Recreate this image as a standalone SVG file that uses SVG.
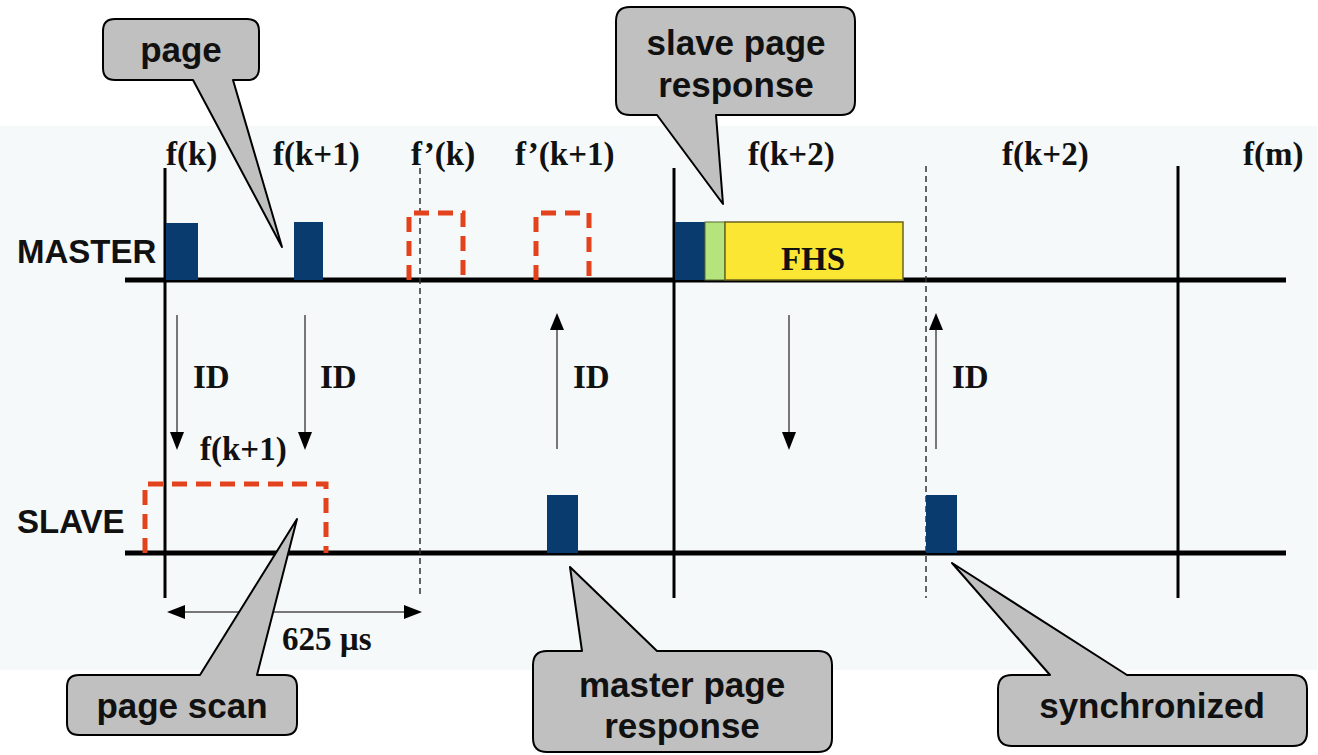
<svg xmlns="http://www.w3.org/2000/svg" width="1318" height="755" viewBox="0 0 1318 755">
<defs>
<style>
.serif{font-family:"Liberation Serif","Times New Roman",serif;font-weight:bold;font-size:33px;fill:#111}
.sans{font-family:"Liberation Sans",Arial,sans-serif;font-weight:bold;font-size:35px;fill:#111}
.lbl{font-family:"Liberation Sans",Arial,sans-serif;font-weight:bold;font-size:33px;fill:#111}
.axis{stroke:#000;stroke-width:5;fill:none}
.vsolid{stroke:#000;stroke-width:3;fill:none}
.vdash{stroke:#333;stroke-width:1.5;stroke-dasharray:6 4;fill:none}
.pkt{fill:#0a3b6e}
.rdash{stroke:#e2421c;stroke-width:5;fill:none;stroke-dasharray:15 9}
.shaft{stroke:#777;stroke-width:2;fill:none}
.callout{fill:#c0c0c0;stroke:#000;stroke-width:2;stroke-linejoin:round}
</style>
<marker id="ah" viewBox="0 0 10 10" refX="10" refY="5" markerWidth="9" markerHeight="8" markerUnits="userSpaceOnUse" orient="auto" overflow="visible">
<path d="M0,0 L10,5 L0,10 Z" fill="#000"/>
</marker>
<marker id="ahb" viewBox="0 0 10 10" refX="10" refY="5" markerWidth="18" markerHeight="15" markerUnits="userSpaceOnUse" orient="auto-start-reverse">
<path d="M0,0 L10,5 L0,10 Z" fill="#000"/>
</marker>
</defs>

<rect x="0" y="126" width="1317" height="544" fill="#f6f9f9"/>

<g id="timeline">
<line class="axis" x1="125" y1="280" x2="1286" y2="280"/>
<line class="axis" x1="125" y1="553" x2="1286" y2="553"/>
<line class="vsolid" x1="165" y1="168" x2="165" y2="598"/>
<line class="vsolid" x1="674" y1="168" x2="674" y2="598"/>
<line class="vsolid" x1="1178" y1="166" x2="1178" y2="598"/>
<line class="vdash" x1="420" y1="168" x2="420" y2="598"/>
<line class="vdash" x1="926" y1="166" x2="926" y2="598"/>
</g>

<g id="row-labels">
<text class="lbl" x="17" y="263">MASTER</text>
<text class="lbl" x="17" y="533">SLAVE</text>
</g>

<g id="freq-labels">
<text class="serif" x="166" y="165">f(k)</text>
<text class="serif" x="273" y="165">f(k+1)</text>
<text class="serif" x="411" y="165">f’(k)</text>
<text class="serif" x="515" y="165">f’(k+1)</text>
<text class="serif" x="748" y="165">f(k+2)</text>
<text class="serif" x="1002" y="165">f(k+2)</text>
<text class="serif" x="1243" y="165">f(m)</text>
<text class="serif" x="200" y="460">f(k+1)</text>
</g>

<g id="master-packets">
<rect class="pkt" x="166" y="223" width="32" height="57"/>
<rect class="pkt" x="294" y="222" width="29" height="58"/>
<rect class="pkt" x="675" y="222" width="30" height="58"/>
<rect x="705" y="222" width="20" height="58" fill="#b5e47c" stroke="#556b2f" stroke-width="1"/>
<rect x="725" y="222" width="178" height="58" fill="#fbe634" stroke="#6b6420" stroke-width="1.5"/>
<text class="serif" x="813" y="270" text-anchor="middle">FHS</text>
<path class="rdash" d="M409,280 V213 H463 V280"/>
<path class="rdash" d="M536,280 V213 H589 V280"/>
</g>

<g id="slave-packets">
<path class="rdash" d="M145,553 V484 H326 V553"/>
<rect class="pkt" x="547" y="495" width="31" height="58"/>
<rect class="pkt" x="926" y="495" width="31" height="58"/>
</g>

<g id="connectors">
<line class="shaft" x1="177" y1="315" x2="177" y2="432"/>
<path d="M170,432 L184,432 L177,450 Z" fill="#000"/>
<line class="shaft" x1="305" y1="315" x2="305" y2="432"/>
<path d="M298,432 L312,432 L305,450 Z" fill="#000"/>
<line class="shaft" x1="557" y1="449" x2="557" y2="330"/>
<path d="M550,330 L564,330 L557,313 Z" fill="#000"/>
<line class="shaft" x1="789" y1="315" x2="789" y2="432"/>
<path d="M782,432 L796,432 L789,450 Z" fill="#000"/>
<line class="shaft" x1="936" y1="449" x2="936" y2="330"/>
<path d="M929,330 L943,330 L936,313 Z" fill="#000"/>
<line class="shaft" x1="184" y1="612" x2="404" y2="612"/>
<path d="M167,612 L185,605 L185,619 Z" fill="#000"/>
<path d="M422,612 L404,605 L404,619 Z" fill="#000"/>
</g>

<g id="connector-labels">
<text class="serif" x="193" y="388">ID</text>
<text class="serif" x="320" y="388">ID</text>
<text class="serif" x="573" y="388">ID</text>
<text class="serif" x="952" y="388">ID</text>
<text class="serif" x="282" y="650">625 µs</text>
</g>

<g id="callout-page">
<path class="callout" d="M115,19 H247 Q259,19 259,31 V68 Q259,80 247,80 H233 L282,247 L193,80 H115 Q103,80 103,68 V31 Q103,19 115,19 Z"/>
<text class="sans" x="181" y="62" text-anchor="middle">page</text>
</g>

<g id="callout-slave-page-response">
<path class="callout" d="M630,7 H841 Q855,7 855,21 V101 Q855,115 841,115 H716 L723,204 L657,115 H630 Q616,115 616,101 V21 Q616,7 630,7 Z"/>
<text class="sans" x="736" y="55" text-anchor="middle">slave page</text>
<text class="sans" x="736" y="97" text-anchor="middle">response</text>
</g>

<g id="callout-page-scan">
<path class="callout" d="M79,675 H200 L297,519 L257,675 H285 Q297,675 297,687 V723 Q297,735 285,735 H79 Q67,735 67,723 V687 Q67,675 79,675 Z"/>
<text class="sans" x="182" y="718" text-anchor="middle">page scan</text>
</g>

<g id="callout-master-page-response">
<path class="callout" d="M547,651 H582 L570,567 L657,651 H818 Q832,651 832,665 V738 Q832,752 818,752 H547 Q533,752 533,738 V665 Q533,651 547,651 Z"/>
<text class="sans" x="682" y="697" text-anchor="middle">master page</text>
<text class="sans" x="682" y="738" text-anchor="middle">response</text>
</g>

<g id="callout-synchronized">
<path class="callout" d="M1012,675 H1050 L952,563 L1127,675 H1293 Q1307,675 1307,689 V732 Q1307,746 1293,746 H1012 Q998,746 998,732 V689 Q998,675 1012,675 Z"/>
<text class="sans" x="1152" y="718" text-anchor="middle">synchronized</text>
</g>
</svg>
